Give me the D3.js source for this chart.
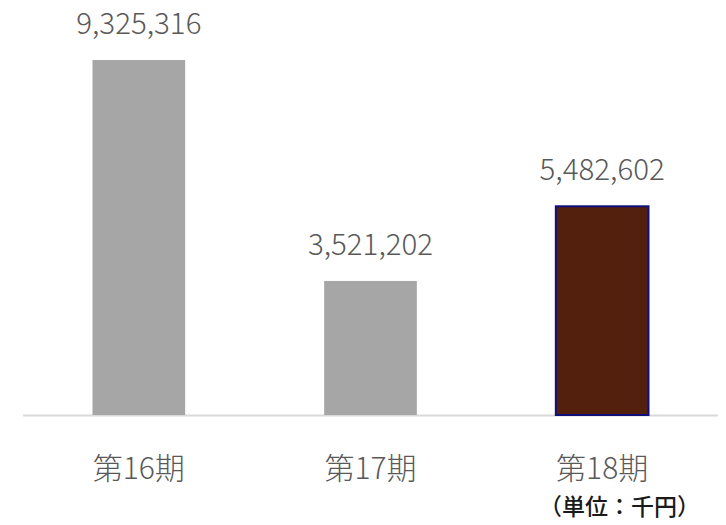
<!DOCTYPE html>
<html><head><meta charset="utf-8">
<script src="https://cdn.jsdelivr.net/npm/d3@7"></script>
<style>body{margin:0;background:#fff}svg{display:block}</style>
</head><body>
<svg id="c" width="726" height="525"></svg>
<script>
const categories = ["第16期", "第17期", "第18期"];
const values = [9325316, 3521202, 5482602];
const unitLabel = "（単位：千円）";

const svg = d3.select("#c");
const left = 23, right = 718, base = 415;
const x = d3.scaleBand().domain(categories).range([left, right]).paddingInner(0.6).paddingOuter(0.3);
const y = d3.scaleLinear().domain([0, 9325316]).range([base, 60]);
const font = "'Noto Sans CJK JP','Noto Sans',sans-serif";

svg.append("line").attr("x1", left).attr("x2", right).attr("y1", base + 0.5).attr("y2", base + 0.5)
  .attr("stroke", "#d9d9d9").attr("stroke-width", 2);

svg.selectAll("rect.bar").data(values).join("rect")
  .attr("x", (d, i) => x(categories[i]))
  .attr("y", d => y(d))
  .attr("width", x.bandwidth())
  .attr("height", d => base - y(d))
  .attr("fill", (d, i) => i === 2 ? "#52200c" : "#a6a6a6")
  .attr("stroke", (d, i) => i === 2 ? "#10107a" : "none")
  .attr("stroke-width", 2);

svg.selectAll("text.val").data(values).join("text")
  .attr("x", (d, i) => x(categories[i]) + x.bandwidth() / 2)
  .attr("y", d => y(d) - 26)
  .attr("text-anchor", "middle")
  .attr("font-family", font).attr("font-size", 29.5).attr("font-weight", 300).attr("fill", "#595959")
  .text(d => d3.format(",")(d));

svg.selectAll("text.cat").data(categories).join("text")
  .attr("x", d => x(d) + x.bandwidth() / 2)
  .attr("y", 479)
  .attr("text-anchor", "middle")
  .attr("font-family", font).attr("font-size", 30).attr("font-weight", 300).attr("fill", "#595959")
  .text(d => d);

svg.append("text").attr("x", 700).attr("y", 515).attr("text-anchor", "end")
  .attr("font-family", font).attr("font-size", 23).attr("font-weight", 500).attr("fill", "#1a1a1a")
  .text(unitLabel);
</script>
</body></html>
